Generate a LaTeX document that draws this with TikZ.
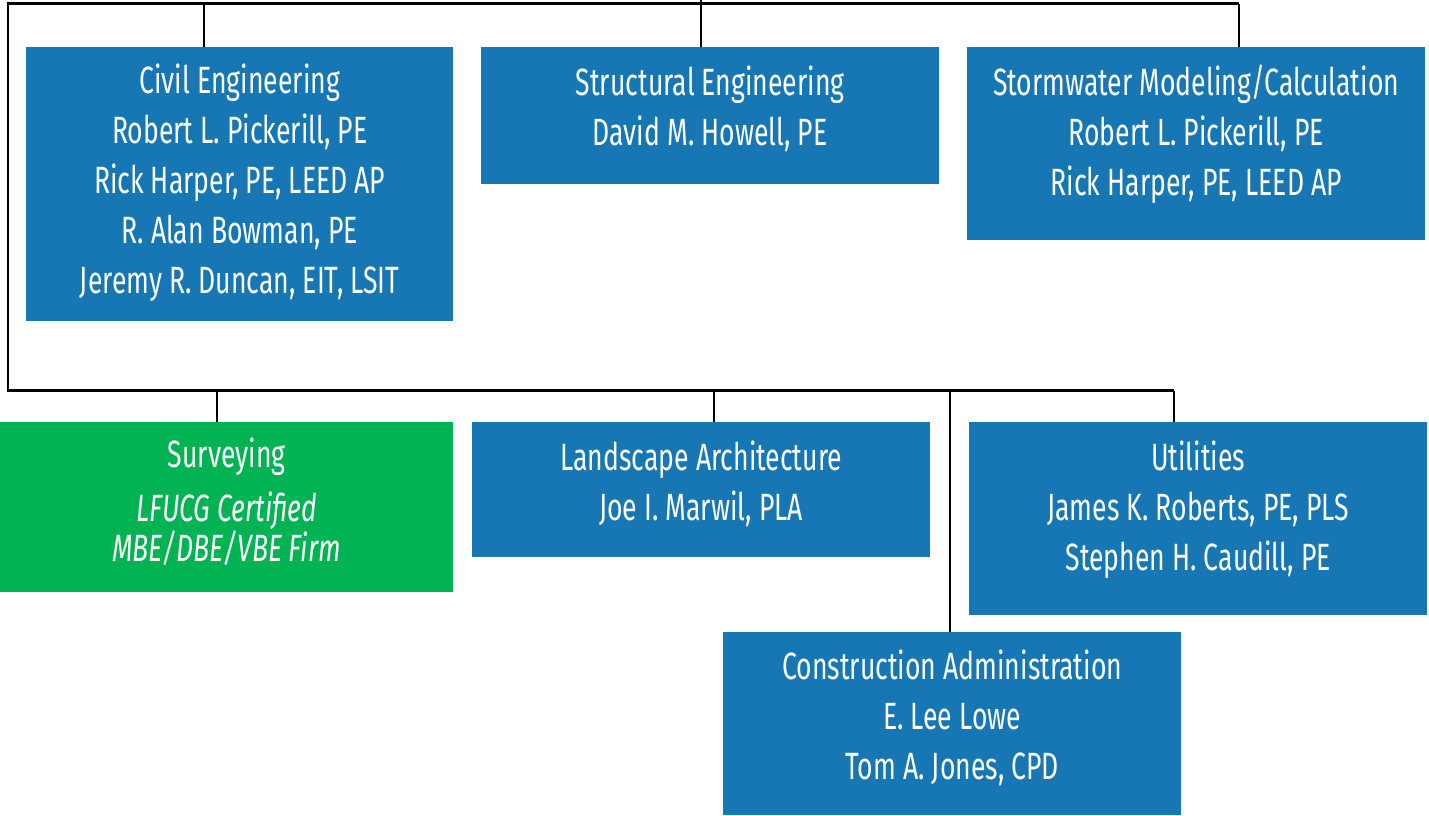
\documentclass[tikz,border=0pt]{standalone}
\usepackage{fontspec}
\setmainfont{Fira Sans}[FakeStretch=0.7]
\definecolor{boxblue}{HTML}{1777B4}
\definecolor{boxgreen}{HTML}{02B354}
\newcommand{\lines}[1]{\setlength{\tabcolsep}{0pt}\begin{tabular}[t]{c}#1\end{tabular}}
\begin{document}
\begin{tikzpicture}[x=1pt,y=-1pt,
  box/.style={fill=boxblue,draw=none,inner sep=0pt,anchor=north west},
  gbox/.style={box,fill=boxgreen},
  txt/.style={text=white,inner sep=0pt,anchor=base,font=\fontsize{38}{50}\selectfont},
  conn/.style={draw=black,line width=2.6pt}]
\useasboundingbox (0,0) rectangle (1429,815);
% boxes
\node[box,minimum width=427pt,minimum height=274pt] (civil) at (26,47) {};
\node[box,minimum width=458pt,minimum height=137pt] (struct) at (481,47) {};
\node[box,minimum width=458pt,minimum height=193pt] (storm) at (967,47) {};
\node[gbox,minimum width=453pt,minimum height=170pt] (survey) at (0,422) {};
\node[box,minimum width=458pt,minimum height=135pt] (land) at (472,422) {};
\node[box,minimum width=458pt,minimum height=193pt] (util) at (969,422) {};
\node[box,minimum width=458pt,minimum height=183pt] (cons) at (723,632) {};
% texts
\node[txt] (civil-t) at ([yshift=-46pt]civil.north) {\lines{Civil Engineering\\Robert L. Pickerill, PE\\Rick Harper, PE, LEED AP\\R. Alan Bowman, PE\\Jeremy R. Duncan, EIT, LSIT}};
\node[txt] (struct-t) at ([yshift=-48pt]struct.north) {\lines{Structural Engineering\\David M. Howell, PE}};
\node[txt] (storm-t) at ([yshift=-48pt]storm.north) {\lines{Stormwater Modeling/Calculation\\Robert L. Pickerill, PE\\Rick Harper, PE, LEED AP}};
\node[txt] (survey-t) at ([yshift=-45pt]survey.north) {\lines{Surveying\\[4pt]\itshape LFUCG Certified\\[-10pt]\itshape MBE/DBE/VBE Firm}};
\node[txt] (land-t) at ([yshift=-48pt]land.north) {\lines{Landscape Architecture\\Joe I. Marwil, PLA}};
\node[txt] (util-t) at ([yshift=-48pt]util.north) {\lines{Utilities\\James K. Roberts, PE, PLS\\Stephen H. Caudill, PE}};
\node[txt] (cons-t) at ([yshift=-47pt]cons.north) {\lines{Construction Administration\\E. Lee Lowe\\Tom A. Jones, CPD}};
% bus coordinates
\coordinate (top) at (701,0);
\coordinate (tR) at (1239,3.5);
\coordinate (tL) at (8,3.5);
\coordinate (bL) at (8,390.5);
\coordinate (bR) at (1174,390.5);
\coordinate (dCivil) at (204,3.5);
\coordinate (dSurvey) at (217,390.5);
\coordinate (dLand) at (714,390.5);
\coordinate (dCons) at (950,390.5);
% connectors
\draw[conn] (tR) -- (tL) -- (bL) -- (bR);
\draw[conn] (top) -- (top |- struct.north);
\draw[conn] (dCivil) -- (dCivil |- civil.north);
\draw[conn] (tR) -- (tR |- storm.north);
\draw[conn] (dSurvey) -- (dSurvey |- survey.north);
\draw[conn] (dLand) -- (dLand |- land.north);
\draw[conn] (dCons) -- (dCons |- cons.north);
\draw[conn] (bR) -- (bR |- util.north);
\end{tikzpicture}
\end{document}
